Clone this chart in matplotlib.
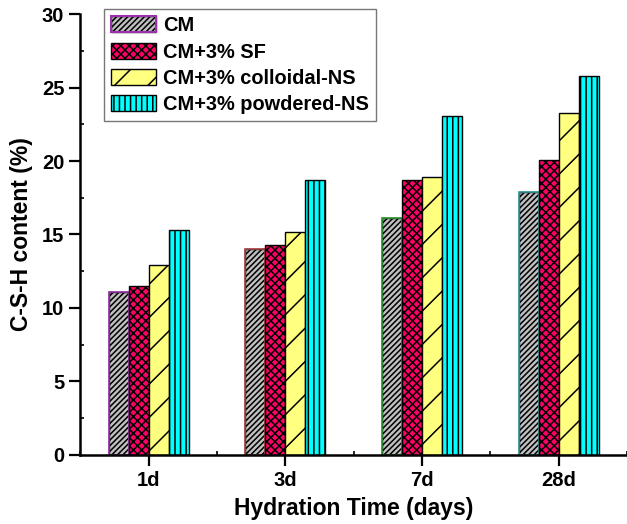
import matplotlib.pyplot as plt
import numpy as np
from matplotlib.ticker import MultipleLocator
from matplotlib.patches import Patch
from matplotlib.legend_handler import HandlerTuple

plt.rcParams['font.family'] = ['Liberation Sans', 'DejaVu Sans']
plt.rcParams['font.weight'] = 'bold'
plt.rcParams['hatch.linewidth'] = 1.1

# data
days = ['1d', '3d', '7d', '28d']
series = ['CM', 'CM+3% SF', 'CM+3% colloidal-NS', 'CM+3% powdered-NS']
cm = [11.1, 14.0, 16.1, 17.9]
sf = [11.5, 14.3, 18.7, 20.1]
colloidal = [12.9, 15.2, 18.9, 23.3]
powdered = [15.3, 18.7, 23.1, 25.8]

values = [cm, sf, colloidal, powdered]
faces = ['#c0c0c0', '#ff0066', '#ffff80', '#00ffff']
hatches = ['//////', 'xxxx', '/', '|||']
cm_edges = ['#9933aa', '#aa4444', '#339933', '#339999']

fig, ax = plt.subplots(figsize=(6.27, 5.24), dpi=100)
fig.subplots_adjust(left=0.128, right=1.0, bottom=0.132, top=0.973)

x = np.arange(1, len(days) + 1)
w = 0.146
handles = []
for i, (vals, fc, h, lab) in enumerate(zip(values, faces, hatches, series)):
    pos = x + (i - 1.5) * w
    ax.bar(pos, vals, width=w, color=fc, hatch=h, edgecolor='black',
           linewidth=1.0)
    hp = Patch(facecolor=fc, hatch=h, edgecolor='black', linewidth=1.0)
    if i == 0:
        # origin gives the first series coloured outlines
        ax.bar(pos, vals, width=w, facecolor='none', edgecolor=cm_edges,
               linewidth=1.2)
        hp = (hp, Patch(facecolor='none', edgecolor=cm_edges[0], linewidth=1.5))
    handles.append(hp)

ax.set_xlim(0.5, 4.5)
ax.set_ylim(0, 30)
ax.set_xticks(x)
ax.set_xticklabels(days)
ax.xaxis.set_minor_locator(MultipleLocator(0.5))
ax.yaxis.set_major_locator(MultipleLocator(5))
ax.yaxis.set_minor_locator(MultipleLocator(2.5))
ax.tick_params(axis='both', which='major', direction='out', length=8,
               width=1.6, labelsize=14.5)
ax.tick_params(axis='both', which='minor', direction='in', length=3, width=1.2)
for s in ['top', 'right']:
    ax.spines[s].set_visible(False)
for s in ['left', 'bottom']:
    ax.spines[s].set_linewidth(1.8)

ax.set_xlabel('Hydration Time (days)', fontsize=16.5, fontweight='bold', labelpad=5)
ax.set_ylabel('C-S-H content (%)', fontsize=16.5, fontweight='bold', labelpad=6)

leg = ax.legend(handles, series, loc='upper left',
                handler_map={tuple: HandlerTuple(ndivide=1, pad=0)},
                bbox_to_anchor=(0.044, 1.011), borderaxespad=0, fancybox=False,
                edgecolor='#555555', fontsize=14.4, handlelength=2.25,
                handleheight=0.85, labelspacing=0.36, borderpad=0.35,
                handletextpad=0.35)
leg.get_frame().set_linewidth(1.0)

plt.savefig('out.png')
